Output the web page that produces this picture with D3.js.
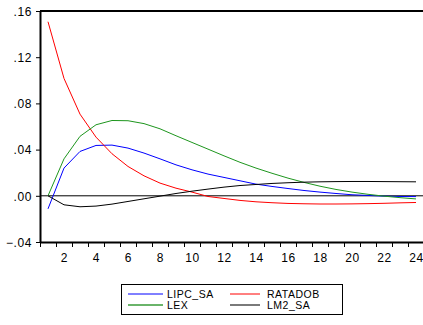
<!DOCTYPE html>
<html>
<head>
<meta charset="utf-8">
<script src="https://cdn.jsdelivr.net/npm/d3@7"></script>
<style>
  body { margin: 0; background: #fff; }
  text { font-family: "Liberation Sans", Arial, sans-serif; font-size: 12px; fill: #000; }
</style>
</head>
<body>
<svg id="canvas" width="423" height="325"></svg>
<script>
let periods = d3.range(1, 25)
let yTicks = [-0.04, 0, 0.04, 0.08, 0.12, 0.16]
let xLabels = [2, 4, 6, 8, 10, 12, 14, 16, 18, 20, 22, 24]

let lipc = [-0.0113, 0.024, 0.0384, 0.0436, 0.0439, 0.0413, 0.037, 0.032, 0.0268, 0.0225, 0.0188, 0.0159,
    0.013, 0.0101, 0.0081, 0.0063, 0.0046, 0.0032, 0.002, 0.0009, 0.0003, -0.0003, -0.0006, -0.0007]
let ratadob = [0.1507, 0.1016, 0.0707, 0.0508, 0.0364, 0.0254, 0.0173, 0.011, 0.0066, 0.0032, -0.0006, -0.0023,
    -0.004, -0.0052, -0.006, -0.0066, -0.0069, -0.0071, -0.0071, -0.007, -0.0068, -0.0065, -0.0061, -0.0058]
let lex = [0, 0.032, 0.0515, 0.0615, 0.0652, 0.065, 0.0625, 0.058, 0.052, 0.0462, 0.0404, 0.0346,
    0.029, 0.024, 0.0195, 0.0153, 0.0116, 0.0083, 0.0055, 0.0032, 0.0013, -0.0003, -0.0016, -0.0027]
let lm2 = [0, -0.0078, -0.0095, -0.0089, -0.0072, -0.0049, -0.0026, -0.0003, 0.002, 0.004, 0.0058, 0.0075,
    0.0089, 0.0098, 0.0107, 0.0113, 0.0118, 0.0121, 0.0123, 0.0124, 0.0124, 0.0123, 0.0122, 0.0121]

let series = [
    { name: 'LIPC_SA', values: lipc, color: '#0000ff', legendColor: '#0000ff', w: 1 },
    { name: 'RATADOB', values: ratadob, color: '#ff0000', legendColor: '#ff0000', w: 1 },
    { name: 'LEX', values: lex, color: '#1e961e', legendColor: '#6ab46a', w: 2 },
    { name: 'LM2_SA', values: lm2, color: '#000000', legendColor: '#7a7a7a', w: 2 }
]

let canvas = d3.select('#canvas')
let plotLeft = 40, plotRight = 424, plotTop = 11, plotBottom = 242

// categories are bands, ticks sit at band edges
let x = d3.scaleLinear().domain([0.5, 24.5]).range([plotLeft, plotRight])
let y = d3.scaleLinear().domain([-0.04, 0.16]).range([plotBottom, plotTop])

let fmt = (d) => d3.format('.2f')(d).replace('0.', '.')

// zero line
canvas.append('line')
    .attr('x1', plotLeft).attr('x2', plotRight)
    .attr('y1', y(0)).attr('y2', y(0))
    .attr('stroke', '#000').attr('stroke-width', 1)

// top frame
canvas.append('line')
    .attr('x1', plotLeft).attr('x2', plotRight)
    .attr('y1', plotTop).attr('y2', plotTop)
    .attr('stroke', '#000').attr('stroke-width', 2)

let yAxis = canvas.append('g')
    .attr('transform', `translate(${plotLeft},0)`)
    .call(d3.axisLeft(y).tickValues(yTicks).tickFormat(fmt).tickSize(4).tickSizeOuter(0))
yAxis.select('.domain').attr('stroke-width', 2)
yAxis.selectAll('.tick text').attr('x', -8).attr('dy', '0.35em').style('letter-spacing', '0.6px')
    .style('font-size', '12px').style('font-family', '"Liberation Sans", Arial, sans-serif')

let xEdges = d3.range(0.5, 25, 1)
let xAxis = canvas.append('g')
    .attr('transform', `translate(0,${plotBottom})`)
    .call(d3.axisBottom(x).tickValues(xEdges).tickFormat('').tickSize(5).tickSizeOuter(0))
xAxis.select('.domain').attr('stroke-width', 2)

let xLab = canvas.append('g')
    .attr('transform', `translate(0,${plotBottom})`)
    .call(d3.axisBottom(x).tickValues(xLabels).tickFormat(d3.format('d')).tickSize(0))
xLab.select('.domain').remove()
xLab.selectAll('.tick text').attr('y', 11).style('letter-spacing', '0.6px')
    .style('font-size', '12px').style('font-family', '"Liberation Sans", Arial, sans-serif')

let line = d3.line()
    .x((d, i) => x(periods[i]))
    .y((d) => y(d))

canvas.selectAll('path.series')
    .data(series)
    .enter()
    .append('path')
    .attr('class', 'series')
    .attr('d', (s) => line(s.values))
    .attr('fill', 'none')
    .attr('stroke', (s) => s.color)
    .attr('stroke-width', 1)

// legend
let legend = canvas.append('g')
legend.append('rect')
    .attr('x', 121.5).attr('y', 284.5)
    .attr('width', 221).attr('height', 30)
    .attr('fill', '#fff').attr('stroke', '#000').attr('stroke-width', 1)

let spots = [
    { lx: 128, tx: 167, ly: 294, ty: 297.5 },
    { lx: 230, tx: 267, ly: 294, ty: 297.5 },
    { lx: 128, tx: 167, ly: 305, ty: 309 },
    { lx: 230, tx: 267, ly: 305, ty: 309 }
]
let lens = [35, 30, 35, 30]

series.forEach((s, i) => {
    let p = spots[i]
    legend.append('line')
        .attr('x1', p.lx).attr('x2', p.lx + lens[i])
        .attr('y1', p.ly).attr('y2', p.ly)
        .attr('stroke', s.legendColor).attr('stroke-width', s.w)
    legend.append('text')
        .attr('x', p.tx).attr('y', p.ty)
        .style('font-size', '10.5px')
        .style('letter-spacing', '0.5px')
        .text(s.name)
})
</script>
</body>
</html>
